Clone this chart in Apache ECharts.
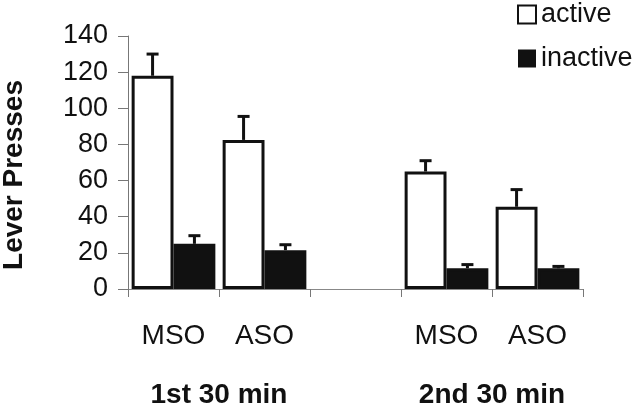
<!DOCTYPE html>
<html>
<head>
<meta charset="utf-8">
<script src="https://cdn.jsdelivr.net/npm/echarts@6/dist/echarts.min.js"></script>
<style>html,body{margin:0;padding:0;background:#fff;}#c{width:640px;height:404px;}</style>
</head>
<body>
<div id="c"></div>
<script>
// ---- data ----
const categories = ['MSO', 'ASO', '', 'MSO', 'ASO'];
const activeValues = [118, 82.5, null, 65, 45.5];
const activeErrTop = [130, 95.5, null, 71, 55];
const inactiveValues = [25, 21.5, null, 11.5, 11.5];
const inactiveErrTop = [29.5, 24.5, null, 13.5, 12.5];
const groupLabels = ['1st 30 min', '2nd 30 min'];
const groupRanges = [[0, 2], [3, 5]];
const yTicks = [0, 20, 40, 60, 80, 100, 120, 140];
const seriesNames = ['active', 'inactive'];
const yAxisTitle = 'Lever Presses';

const FONT = 'Liberation Sans, Arial, sans-serif';
const INK = '#111';
const CAT_GAP = 0.08;

function errData(vals, tops) {
  const out = [];
  vals.forEach((v, i) => { if (v != null) out.push([i, v, tops[i]]); });
  return out;
}
function errRenderer(sign) {
  return function (params, api) {
    const i = api.value(0), v = api.value(1), e = api.value(2);
    const base = api.coord([i, v]);
    const top = api.coord([i, e]);
    const band = api.size([1, 0])[0];
    const barW = band * (1 - CAT_GAP) / 2;
    const cx = base[0] + sign * barW / 2;
    const cap = 6;
    return {
      type: 'group',
      children: [
        { type: 'line', shape: { x1: cx, y1: base[1], x2: cx, y2: top[1] }, style: { stroke: INK, lineWidth: 3 } },
        { type: 'line', shape: { x1: cx - cap, y1: top[1], x2: cx + cap, y2: top[1] }, style: { stroke: INK, lineWidth: 3 } }
      ]
    };
  };
}
const groupCentres = groupRanges.map(r => (r[0] + r[1]) / 2);

const chart = echarts.init(document.getElementById('c'), null, { renderer: 'canvas' });
chart.setOption({
  animation: false,
  backgroundColor: '#fff',
  textStyle: { fontFamily: FONT },
  grid: { left: 128, right: 57, top: 36, bottom: 115, containLabel: false, outerBoundsMode: 'none' },
  legend: {
    orient: 'vertical',
    left: 512,
    top: -4,
    itemWidth: 18,
    itemHeight: 18,
    itemGap: 17,
    icon: 'rect',
    textStyle: { fontFamily: FONT, fontSize: 27, color: INK, lineHeight: 22 },
    data: [
      { name: seriesNames[0], itemStyle: { color: '#fff', borderColor: INK, borderWidth: 2 } },
      { name: seriesNames[1], itemStyle: { color: INK, borderColor: INK, borderWidth: 0 } }
    ]
  },
  xAxis: [
    {
      type: 'category',
      data: categories,
      position: 'bottom',
      axisLine: { lineStyle: { color: '#888', width: 1 } },
      axisTick: { show: true, length: 8, interval: 0, lineStyle: { color: '#777' } },
      axisLabel: { interval: 0, margin: 33, fontSize: 28, color: INK, fontFamily: FONT, lineHeight: 28 }
    },
    {
      type: 'value',
      min: 0, max: categories.length, interval: 1,
      position: 'bottom',
      axisLine: { show: false },
      axisTick: { show: false },
      splitLine: { show: false },
      axisLabel: {
        margin: 92, fontSize: 28, fontWeight: 'bold', color: INK, fontFamily: FONT, lineHeight: 28,
        showMinLabel: true, showMaxLabel: true,
        formatter: function (v) { const k = groupCentres.indexOf(v); return k >= 0 ? groupLabels[k] : ''; }
      }
    }
  ],
  yAxis: {
    type: 'value',
    min: yTicks[0], max: yTicks[yTicks.length - 1], interval: yTicks[1] - yTicks[0],
    name: yAxisTitle,
    nameLocation: 'middle',
    nameGap: 100,
    nameRotate: 90,
    nameTextStyle: { fontSize: 28, fontWeight: 'bold', color: INK, fontFamily: FONT, lineHeight: 28, padding: [0, 25, 0, 0] },
    axisLine: { show: true, lineStyle: { color: '#777', width: 1 } },
    axisTick: { show: true, length: 10, lineStyle: { color: '#777' } },
    splitLine: { show: false },
    axisLabel: { margin: 20, fontSize: 27, color: INK, fontFamily: FONT }
  },
  series: [
    {
      name: seriesNames[0], type: 'bar', data: activeValues,
      barGap: '0%', barCategoryGap: (CAT_GAP * 100) + '%',
      itemStyle: { color: '#fff', borderColor: INK, borderWidth: 3 }
    },
    {
      name: seriesNames[1], type: 'bar', data: inactiveValues,
      barGap: '0%', barCategoryGap: (CAT_GAP * 100) + '%',
      itemStyle: { color: INK, borderColor: INK, borderWidth: 3 }
    },
    { name: 'errActive', type: 'custom', renderItem: errRenderer(-1), data: errData(activeValues, activeErrTop), encode: { x: 0, y: [1, 2] }, z: 5 },
    { name: 'errInactive', type: 'custom', renderItem: errRenderer(1), data: errData(inactiveValues, inactiveErrTop), encode: { x: 0, y: [1, 2] }, z: 5 }
  ]
});
</script>
</body>
</html>
